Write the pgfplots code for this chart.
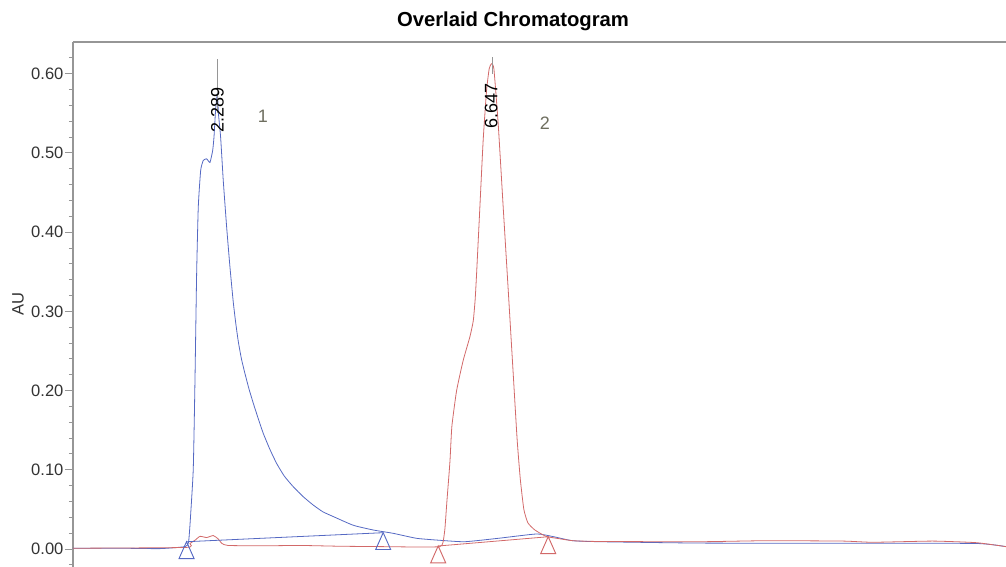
\documentclass[border=0pt]{standalone}
\usepackage{fontspec}
\setmainfont{Liberation Sans}
\usepackage{pgfplots}
\pgfplotsset{compat=1.18}
\definecolor{cblue}{RGB}{85,105,195}
\definecolor{cred}{RGB}{210,105,105}
\definecolor{axgray}{RGB}{150,150,150}
\definecolor{lblgray}{RGB}{110,110,95}
\begin{document}
\begin{tikzpicture}
\useasboundingbox (-54.75pt,0) rectangle (699.75pt,425.25pt);
\begin{axis}[
  at={(0,0)}, anchor=south west,
  scale only axis, width=699.75pt, height=393.75pt,
  xmin=0, xmax=14.79, ymin=-0.0227, ymax=0.64,
  axis x line=top, axis y line=left,
  axis line style={-, draw=axgray, line width=0.9pt},
  xtick=\empty,
  ytick={0,0.1,0.2,0.3,0.4,0.5,0.6},
  minor ytick={-0.02,0.02,0.04,0.06,0.08,0.12,0.14,0.16,0.18,0.22,0.24,0.26,0.28,0.32,0.34,0.36,0.38,0.42,0.44,0.46,0.48,0.52,0.54,0.56,0.58,0.62},
  tick align=outside,
  major tick length=6pt, minor tick length=3pt,
  every tick/.style={draw=axgray, line width=0.7pt},
  yticklabel style={font=\fontsize{12.4}{14}\selectfont, text=black!80, inner sep=1pt},
  /pgf/number format/.cd, fixed, fixed zerofill, precision=2, assume math mode=true,
  /pgfplots/.cd,
  ylabel={AU},
  ylabel style={at={(axis description cs:-0.059,0.5)}, anchor=center, font=\fontsize{12.4}{14}\selectfont, text=black!80},
  every axis title shift=0pt,
  title={Overlaid Chromatogram},
  title style={at={(axis description cs:0.4716,1.04)}, anchor=center, font=\fontsize{15.2}{18}\selectfont\bfseries},
  clip=true,
]
% blue chromatogram
\addplot[cblue, line width=0.6pt, smooth, tension=0.3] table {
0 0.001
0.745 0.001
1.379 0.0005
1.775 0.003
1.830 0.008
1.854 0.03
1.906 0.10
1.933 0.21
1.960 0.348
1.986 0.432
2.024 0.478
2.065 0.4905
2.119 0.4925
2.171 0.488
2.214 0.503
2.235 0.52
2.261 0.555
2.289 0.575
2.305 0.55
2.340 0.52
2.382 0.465
2.436 0.406
2.488 0.356
2.540 0.312
2.580 0.285
2.620 0.262
2.670 0.240
2.726 0.2215
2.790 0.202
2.858 0.184
2.935 0.165
3.016 0.146
3.120 0.126
3.228 0.108
3.350 0.092
3.492 0.0786
3.650 0.066
3.808 0.0555
3.960 0.047
4.125 0.041
4.442 0.030
4.759 0.024
5.076 0.0198
5.446 0.0135
5.816 0.011
6.210 0.0092
6.74 0.0135
7.35 0.019
7.62 0.0155
7.92 0.0105
8.35 0.0092
9.937 0.0075
12.31 0.0072
14.32 0.007
14.79 0.003
};
% red chromatogram
\addplot[cred, line width=0.6pt, smooth, tension=0.3] table {
0 0.001
1.79 0.002
1.854 0.007
1.933 0.011
2.013 0.016
2.119 0.0145
2.223 0.017
2.298 0.013
2.361 0.007
2.456 0.0045
2.964 0.004
3.597 0.0045
4.231 0.0035
4.913 0.003
5.499 0.0025
5.816 0.003
5.864 0.008
5.895 0.025
5.927 0.06
5.975 0.11
6.006 0.155
6.081 0.2
6.185 0.238
6.292 0.268
6.345 0.288
6.375 0.315
6.398 0.348
6.450 0.432
6.502 0.516
6.556 0.579
6.597 0.606
6.632 0.6125
6.672 0.606
6.740 0.537
6.819 0.432
6.899 0.327
6.978 0.2215
7.041 0.1375
7.092 0.087
7.147 0.05
7.211 0.033
7.322 0.024
7.496 0.016
7.670 0.0135
7.924 0.0105
8.352 0.0095
9.937 0.0092
10.99 0.0105
12.21 0.010
12.68 0.0085
13.63 0.010
14.32 0.008
14.79 0.003
};
% integration baselines with peak start/end markers
\addplot[cblue, line width=0.6pt, mark=triangle, mark size=6.5pt,
  mark options={solid, yshift=-8.4pt, yscale=1.3, line width=0.7pt}] table {
1.80 0.0092
4.917 0.0206
};
\addplot[cred, line width=0.6pt, mark=triangle, mark size=6.5pt,
  mark options={solid, yshift=-8.4pt, yscale=1.3, line width=0.7pt}] table {
5.789 0.0038
7.533 0.0155
};
% retention time marker lines
\addplot[axgray, line width=0.5pt] table {
2.289 0.55
2.289 0.618
};
\addplot[axgray, line width=0.5pt] table {
6.647 0.60
6.647 0.621
};
\node[rotate=90, font=\fontsize{13.5}{16}\selectfont] at (axis cs:2.289,0.554) {2.289};
\node[rotate=90, font=\fontsize{13.5}{16}\selectfont] at (axis cs:6.630,0.559) {6.647};
\node[font=\fontsize{13.5}{16}\selectfont, text=lblgray] at (axis cs:3.011,0.546) {1};
\node[font=\fontsize{13.5}{16}\selectfont, text=lblgray] at (axis cs:7.48,0.538) {2};
\end{axis}
\end{tikzpicture}
\end{document}
